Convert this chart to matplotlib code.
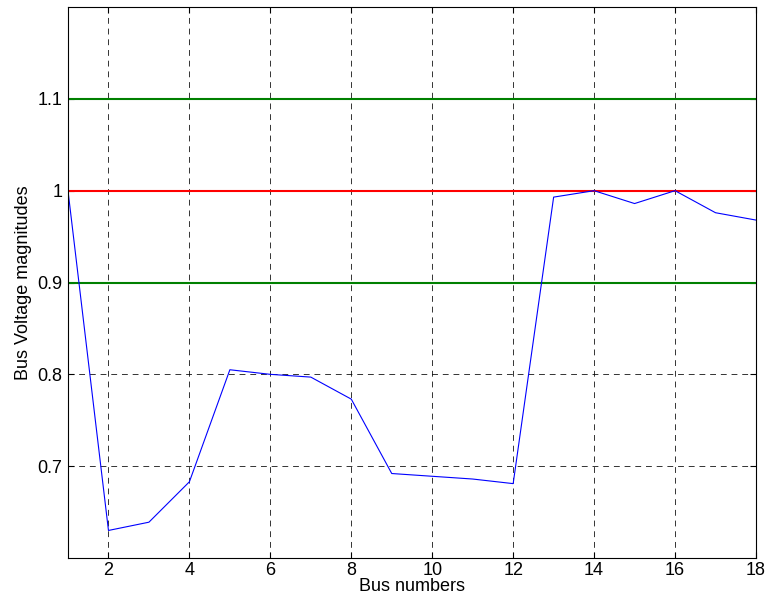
import numpy as np
import matplotlib
matplotlib.use('Agg')
import matplotlib.pyplot as plt

plt.rcParams['font.family'] = ['Liberation Sans', 'DejaVu Sans']

bus = np.arange(1, 19)
voltage = [1.0, 0.630, 0.639, 0.683, 0.805, 0.800, 0.797, 0.773, 0.692,
           0.689, 0.686, 0.681, 0.993, 1.0, 0.986, 1.0, 0.976, 0.968]
v_upper = 1.1
v_nominal = 1.0
v_lower = 0.9

x_ticks = [2, 4, 6, 8, 10, 12, 14, 16, 18]
y_ticks = [0.7, 0.8, 0.9, 1.0, 1.1]
y_tick_labels = ['0.7', '0.8', '0.9', '1', '1.1']

fig = plt.figure(figsize=(7.7, 6.06), dpi=100)
ax = fig.add_axes([0.0883, 0.0792, 0.8935, 0.9092])

ax.axhline(v_upper, color='#008000', lw=1.5)
ax.axhline(v_nominal, color='#ff0000', lw=1.5)
ax.axhline(v_lower, color='#008000', lw=1.5)
ax.plot(bus, voltage, color='#0000ff', lw=0.8)

ax.set_xlim(1, 18)
ax.set_ylim(0.6, 1.2)
ax.set_xticks(x_ticks)
ax.set_yticks(y_ticks)
ax.set_yticklabels(y_tick_labels)
ax.tick_params(direction='in', top=True, right=True, labelsize=13, length=4, pad=4)
ax.tick_params(axis='x', pad=3)
ax.grid(True, color='black', linestyle=(0, (6, 5)), lw=0.7, alpha=0.8)
ax.set_axisbelow(True)

ax.set_xlabel('Bus numbers', fontsize=13, labelpad=-1)
ax.set_ylabel('Bus Voltage magnitudes', fontsize=13, labelpad=4)

fig.savefig('out.png', dpi=100)
